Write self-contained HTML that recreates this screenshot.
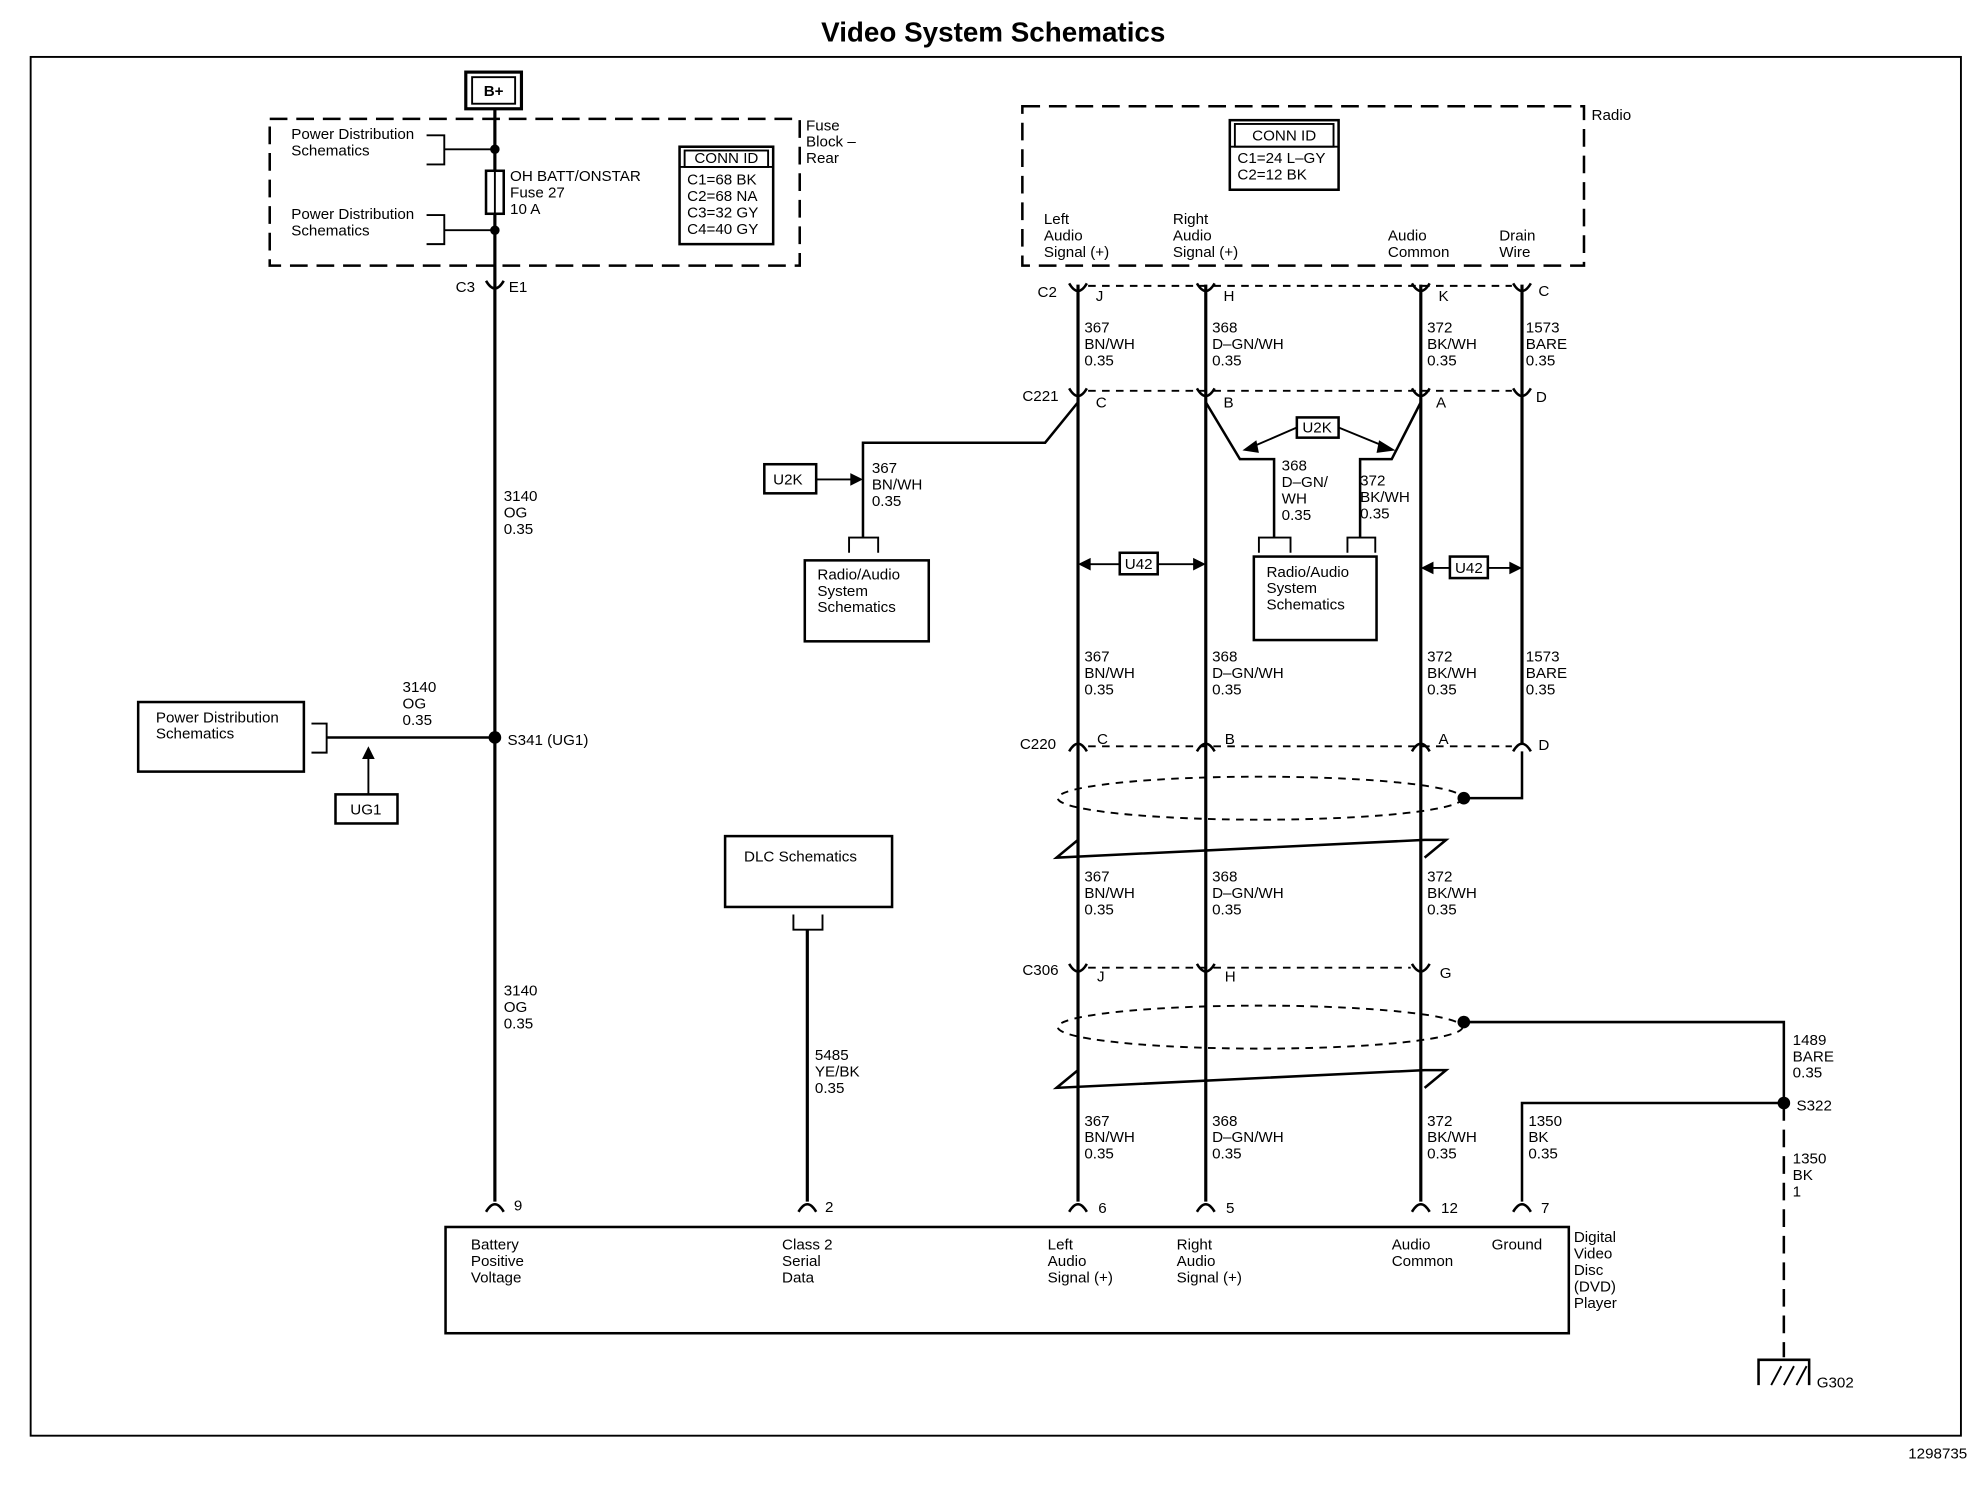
<!DOCTYPE html>
<html><head><meta charset="utf-8"><style>
html,body{margin:0;padding:0;background:#fff}
svg{display:block}
text{font-family:"Liberation Sans",Arial,sans-serif;font-size:12px;fill:#000}
</style></head><body>
<svg width="1984" height="1504" viewBox="0 0 1568 1189" xmlns="http://www.w3.org/2000/svg">
<g stroke="#000" fill="none" stroke-width="1.5">
<rect x="24" y="45" width="1526" height="1090"/>
<!-- B+ -->
<rect x="368" y="57" width="44" height="29" stroke-width="2.5"/>
<rect x="373" y="61" width="34" height="21"/>
<!-- fuse block dashed -->
<rect x="213" y="94" width="419" height="116" stroke-dasharray="14,7" stroke-width="2"/>
<rect x="808" y="84" width="444" height="126" stroke-dasharray="14,7" stroke-width="2"/>
<!-- main vertical -->
<line x1="391" y1="86" x2="391" y2="950" stroke-width="2.5"/>
<rect x="384" y="135" width="14" height="34" fill="#fff" stroke-width="2"/>
<line x1="391" y1="135" x2="391" y2="169"/>
<!-- power dist brackets -->
<polyline points="337,107 351,107 351,130 337,130"/><line x1="351" y1="118" x2="391" y2="118"/>
<polyline points="337,170 351,170 351,193 337,193"/><line x1="351" y1="182" x2="391" y2="182"/>
<circle cx="391" cy="118" r="3" fill="#000"/><circle cx="391" cy="182" r="3" fill="#000"/>
<!-- conn id fuse -->
<rect x="537" y="116" width="74" height="77" stroke-width="2"/>
<line x1="537" y1="132" x2="611" y2="132"/><rect x="541" y="119" width="66" height="13"/>
<!-- conn id radio -->
<rect x="972" y="95" width="86" height="55" stroke-width="2"/>
<line x1="972" y1="116" x2="1058" y2="116"/><rect x="976" y="98" width="78" height="18"/>
<!-- S341 -->
<line x1="258" y1="583" x2="391" y2="583" stroke-width="2"/>
<rect x="109" y="555" width="131" height="55" stroke-width="2"/>
<polyline points="246,572 258,572 258,595 246,595"/>
<rect x="265" y="628" width="49" height="23" stroke-width="2"/>
<line x1="291" y1="628" x2="291" y2="595"/>
<!-- DLC -->
<rect x="573" y="661" width="132" height="56" stroke-width="2"/>
<polyline points="627,723 627,735 650,735 650,723"/>
<line x1="638" y1="735" x2="638" y2="950" stroke-width="2.5"/>
<!-- DVD -->
<rect x="352" y="970" width="888" height="84" stroke-width="2"/>
<!-- signal wires -->
<line x1="852" y1="225" x2="852" y2="950" stroke-width="2.5"/>
<line x1="953" y1="225" x2="953" y2="950" stroke-width="2.5"/>
<line x1="1123" y1="225" x2="1123" y2="950" stroke-width="2.5"/>
<line x1="1203" y1="225" x2="1203" y2="588" stroke-width="2.5"/>
<polyline points="1203,594 1203,631 1157,631" stroke-width="2"/>
<!-- dashed connector lines -->
<g stroke-dasharray="6,5"><line x1="860" y1="226" x2="1195" y2="226"/><line x1="860" y1="309" x2="1195" y2="309"/><line x1="860" y1="590" x2="1195" y2="590"/><line x1="860" y1="765" x2="1115" y2="765"/></g>
<!-- ellipses -->
<ellipse cx="996" cy="631" rx="160" ry="17" stroke-dasharray="6,5"/>
<ellipse cx="996" cy="812" rx="160" ry="17" stroke-dasharray="6,5"/>
<polyline points="852,664 835,678 1126,664 1143,664 1126,678" stroke-width="2"/>
<polyline points="852,846 835,860 1126,846 1143,846 1126,860" stroke-width="2"/>
<!-- left branch -->
<polyline points="852,318 826,350 682,350 682,425" stroke-width="2"/>
<rect x="604" y="367" width="41" height="23" stroke-width="2"/>
<line x1="645" y1="379" x2="676" y2="379"/>
<polyline points="671,437 671,425 694,425 694,437"/>
<rect x="636" y="443" width="98" height="64" stroke-width="2"/>
<!-- middle branches -->
<polyline points="953,318 980,363 1007,363 1007,425" stroke-width="2"/>
<polyline points="1123,318 1100,363 1075,363 1075,425" stroke-width="2"/>
<rect x="1025" y="330" width="33" height="16" stroke-width="2"/>
<line x1="1025" y1="338" x2="988" y2="354"/><line x1="1058" y1="338" x2="1097" y2="354"/>
<polyline points="995,437 995,425 1020,425 1020,437"/>
<polyline points="1065,437 1065,425 1087,425 1087,437"/>
<rect x="991" y="440" width="97" height="66" stroke-width="2"/>
<!-- U42 -->
<rect x="885" y="437" width="30" height="17" stroke-width="2"/>
<line x1="860" y1="446" x2="885" y2="446"/><line x1="915" y1="446" x2="945" y2="446"/>
<rect x="1146" y="440" width="30" height="17" stroke-width="2"/>
<line x1="1130" y1="449" x2="1146" y2="449"/><line x1="1176" y1="449" x2="1196" y2="449"/>
<!-- ground -->
<polyline points="1157,808 1410,808 1410,872 1203,872 1203,950" stroke-width="2"/>
<line x1="1410" y1="872" x2="1410" y2="1073" stroke-dasharray="14,7" stroke-width="2"/>
<polyline points="1390,1095 1390,1075 1430,1075 1430,1095" stroke-width="2"/>
<line x1="1400" y1="1095" x2="1408" y2="1080"/><line x1="1410" y1="1095" x2="1418" y2="1080"/><line x1="1420" y1="1095" x2="1428" y2="1080"/>
</g>
<g fill="#000">
<circle cx="391" cy="583" r="5"/><circle cx="1157" cy="631" r="5"/><circle cx="1157" cy="808" r="5"/><circle cx="1410" cy="872" r="5"/>
<polygon points="291,590 286,600 296,600"/>
<polygon points="682,379 672,374 672,384"/>
<polygon points="852,446 862,441 862,451"/><polygon points="953,446 943,441 943,451"/>
<polygon points="1123,449 1133,444 1133,454"/><polygon points="1203,449 1193,444 1193,454"/>
<polygon points="982,356 993,348 995,358"/><polygon points="1103,356 1090,348 1088,358"/>
</g>
<!-- connector cups -->
<g stroke="#000" fill="none" stroke-width="2">
<path d="M384,222 Q391,234 398,222"/>
<path d="M845,224 Q852,236 859,224"/><path d="M946,224 Q953,236 960,224"/><path d="M1116,224 Q1123,236 1130,224"/><path d="M1196,224 Q1203,236 1210,224"/>
<path d="M845,307 Q852,319 859,307"/><path d="M946,307 Q953,319 960,307"/><path d="M1116,307 Q1123,319 1130,307"/><path d="M1196,307 Q1203,319 1210,307"/>
<path d="M845,594 Q852,582 859,594"/><path d="M946,594 Q953,582 960,594"/><path d="M1116,594 Q1123,582 1130,594"/><path d="M1196,594 Q1203,582 1210,594"/>
<path d="M845,762 Q852,774 859,762"/><path d="M946,762 Q953,774 960,762"/><path d="M1116,762 Q1123,774 1130,762"/>
<path d="M384,958 Q391,946 398,958"/><path d="M631,958 Q638,946 645,958"/><path d="M845,958 Q852,946 859,958"/><path d="M946,958 Q953,946 960,958"/><path d="M1116,958 Q1123,946 1130,958"/><path d="M1196,958 Q1203,946 1210,958"/>
</g>
<text x="785" y="33" text-anchor="middle" style="font-size:22px;font-weight:bold">Video System Schematics</text>
<text x="1555" y="1153" text-anchor="end">1298735</text>
<text x="390" y="76" text-anchor="middle" style="font-weight:bold">B+</text>
<text x="637" y="103">Fuse</text><text x="637" y="116">Block –</text><text x="637" y="129">Rear</text>
<text x="230" y="110">Power Distribution</text><text x="230" y="123">Schematics</text>
<text x="230" y="173">Power Distribution</text><text x="230" y="186">Schematics</text>
<text x="403" y="143">OH BATT/ONSTAR</text><text x="403" y="156">Fuse 27</text><text x="403" y="169">10 A</text>
<text x="574" y="129" text-anchor="middle">CONN ID</text>
<text x="543" y="146">C1=68 BK</text><text x="543" y="159">C2=68 NA</text><text x="543" y="172">C3=32 GY</text><text x="543" y="185">C4=40 GY</text>
<text x="360" y="231">C3</text><text x="402" y="231">E1</text>
<text x="398" y="396">3140</text><text x="398" y="409">OG</text><text x="398" y="422">0.35</text>
<text x="318" y="547">3140</text><text x="318" y="560">OG</text><text x="318" y="573">0.35</text>
<text x="401" y="589">S341 (UG1)</text>
<text x="123" y="571">Power Distribution</text><text x="123" y="584">Schematics</text>
<text x="289" y="644" text-anchor="middle">UG1</text>
<text x="398" y="787">3140</text><text x="398" y="800">OG</text><text x="398" y="813">0.35</text>
<text x="588" y="681">DLC Schematics</text>
<text x="644" y="838">5485</text><text x="644" y="851">YE/BK</text><text x="644" y="864">0.35</text>
<text x="1258" y="95">Radio</text>
<text x="1015" y="111" text-anchor="middle">CONN ID</text>
<text x="978" y="129">C1=24 L–GY</text><text x="978" y="142">C2=12 BK</text>
<text x="825" y="177">Left</text><text x="825" y="190">Audio</text><text x="825" y="203">Signal (+)</text>
<text x="927" y="177">Right</text><text x="927" y="190">Audio</text><text x="927" y="203">Signal (+)</text>
<text x="1097" y="190">Audio</text><text x="1097" y="203">Common</text>
<text x="1185" y="190">Drain</text><text x="1185" y="203">Wire</text>
<text x="820" y="235">C2</text><text x="866" y="238">J</text><text x="967" y="238">H</text><text x="1137" y="238">K</text><text x="1216" y="234">C</text>
<text x="808" y="317">C221</text><text x="866" y="322">C</text><text x="967" y="322">B</text><text x="1135" y="322">A</text><text x="1214" y="318">D</text>
<g>
<text x="857" y="263">367</text><text x="857" y="276">BN/WH</text><text x="857" y="289">0.35</text>
<text x="958" y="263">368</text><text x="958" y="276">D–GN/WH</text><text x="958" y="289">0.35</text>
<text x="1128" y="263">372</text><text x="1128" y="276">BK/WH</text><text x="1128" y="289">0.35</text>
<text x="1206" y="263">1573</text><text x="1206" y="276">BARE</text><text x="1206" y="289">0.35</text>
</g>
<text x="611" y="383">U2K</text>
<text x="689" y="374">367</text><text x="689" y="387">BN/WH</text><text x="689" y="400">0.35</text>
<text x="646" y="458">Radio/Audio</text><text x="646" y="471">System</text><text x="646" y="484">Schematics</text>
<text x="1041" y="342" text-anchor="middle">U2K</text>
<text x="1013" y="372">368</text><text x="1013" y="385">D–GN/</text><text x="1013" y="398">WH</text><text x="1013" y="411">0.35</text>
<text x="1075" y="384">372</text><text x="1075" y="397">BK/WH</text><text x="1075" y="410">0.35</text>
<text x="1001" y="456">Radio/Audio</text><text x="1001" y="469">System</text><text x="1001" y="482">Schematics</text>
<text x="900" y="450" text-anchor="middle">U42</text><text x="1161" y="453" text-anchor="middle">U42</text>
<text x="857" y="523">367</text><text x="857" y="536">BN/WH</text><text x="857" y="549">0.35</text>
<text x="958" y="523">368</text><text x="958" y="536">D–GN/WH</text><text x="958" y="549">0.35</text>
<text x="1128" y="523">372</text><text x="1128" y="536">BK/WH</text><text x="1128" y="549">0.35</text>
<text x="1206" y="523">1573</text><text x="1206" y="536">BARE</text><text x="1206" y="549">0.35</text>
<text x="806" y="592">C220</text><text x="867" y="588">C</text><text x="968" y="588">B</text><text x="1137" y="588">A</text><text x="1216" y="593">D</text>
<text x="857" y="697">367</text><text x="857" y="710">BN/WH</text><text x="857" y="723">0.35</text>
<text x="958" y="697">368</text><text x="958" y="710">D–GN/WH</text><text x="958" y="723">0.35</text>
<text x="1128" y="697">372</text><text x="1128" y="710">BK/WH</text><text x="1128" y="723">0.35</text>
<text x="808" y="771">C306</text><text x="867" y="776">J</text><text x="968" y="776">H</text><text x="1138" y="773">G</text>
<text x="1417" y="826">1489</text><text x="1417" y="839">BARE</text><text x="1417" y="852">0.35</text>
<text x="1420" y="878">S322</text>
<text x="1417" y="920">1350</text><text x="1417" y="933">BK</text><text x="1417" y="946">1</text>
<text x="1208" y="890">1350</text><text x="1208" y="903">BK</text><text x="1208" y="916">0.35</text>
<text x="857" y="890">367</text><text x="857" y="903">BN/WH</text><text x="857" y="916">0.35</text>
<text x="958" y="890">368</text><text x="958" y="903">D–GN/WH</text><text x="958" y="916">0.35</text>
<text x="1128" y="890">372</text><text x="1128" y="903">BK/WH</text><text x="1128" y="916">0.35</text>
<text x="406" y="957">9</text><text x="652" y="958">2</text><text x="868" y="959">6</text><text x="969" y="959">5</text><text x="1139" y="959">12</text><text x="1218" y="959">7</text>
<text x="372" y="988">Battery</text><text x="372" y="1001">Positive</text><text x="372" y="1014">Voltage</text>
<text x="618" y="988">Class 2</text><text x="618" y="1001">Serial</text><text x="618" y="1014">Data</text>
<text x="828" y="988">Left</text><text x="828" y="1001">Audio</text><text x="828" y="1014">Signal (+)</text>
<text x="930" y="988">Right</text><text x="930" y="1001">Audio</text><text x="930" y="1014">Signal (+)</text>
<text x="1100" y="988">Audio</text><text x="1100" y="1001">Common</text>
<text x="1179" y="988">Ground</text>
<text x="1244" y="982">Digital</text><text x="1244" y="995">Video</text><text x="1244" y="1008">Disc</text><text x="1244" y="1021">(DVD)</text><text x="1244" y="1034">Player</text>
<text x="1436" y="1097">G302</text>
</svg>
</body></html>
